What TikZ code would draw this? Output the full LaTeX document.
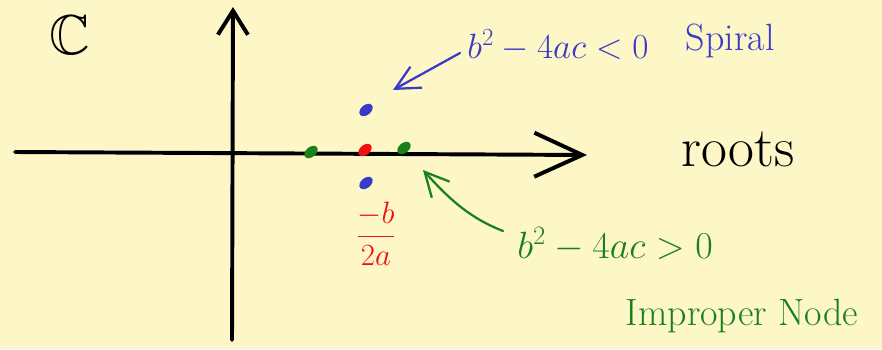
\RequirePackage{fix-cm}
\documentclass[tikz,border=0pt]{standalone}
\usepackage{amsmath}
\usepackage{amssymb}
\usepackage{fontspec}
\usetikzlibrary{arrows.meta,shapes.geometric}
\definecolor{paper}{HTML}{FDF7C8}
\definecolor{inkblue}{HTML}{3A3AC8}
\definecolor{inkgreen}{HTML}{1A801A}
\definecolor{inkred}{HTML}{F01010}

\begin{document}
\begin{tikzpicture}[x=0.025cm, y=-0.025cm, line cap=round, line join=round,
 axis/.style={line width=2.8pt, black},
 pointer/.style={line width=1.6pt, -{Straight Barb[length=0.6cm, width=0.6cm]}},
 root/.style={ellipse, fill, inner sep=0pt, minimum width=0.38cm, minimum height=0.25cm, rotate=40},
 big/.style={font=\fontsize{40}{44}\selectfont},
 mid/.style={font=\fontsize{27}{31}\selectfont},
 sml/.style={font=\fontsize{25}{28}\selectfont}]
\useasboundingbox (0,0) rectangle (882,349);
\fill[paper] (0,0) rectangle (882,349);
\coordinate (xl) at (15,152);
\coordinate (xr) at (587,155);
\coordinate (yb) at (232,340);
\coordinate (yt) at (233,7);
\draw[axis, -{Straight Barb[length=1.2cm, width=1.1cm]}] (xl) -- (xr);
\draw[axis, -{Straight Barb[length=0.6cm, width=0.75cm]}] (yb) -- (yt);
\node[big] (cc) at (70,35) {$\mathbb{C}$};
\foreach \n/\x/\y/\c in {sa/366/110/inkblue, sb/366/183/inkblue, ga/311/152/inkgreen, gb/404/148/inkgreen, rr/365/150/inkred}
  \node[root, \c] (\n) at (\x,\y) {};
\node[font=\fontsize{22}{26}\selectfont, inkred] (fr) at (376,234) {$\dfrac{-b}{2a}$};
\node[sml, inkblue, anchor=base] (lt) at (558,58) {$b^2-4ac<0$};
\node[mid, inkblue, anchor=base west] (sl) at (681,50) {Spiral};
\node[big, anchor=base] (rt) at (738,166) {roots};
\node[mid, inkgreen, anchor=base] (gt) at (615,258) {$b^2-4ac>0$};
\node[mid, inkgreen, anchor=base] (imp) at (742,325) {Improper Node};
\coordinate (bt) at (460,53);
\coordinate (bh) at (393,90);
\coordinate (gl) at (503,231);
\coordinate (gh) at (423,170);
\draw[pointer, inkblue] (bt) -- (bh);
\draw[pointer, inkgreen] (gl) .. controls (470,218) and (450,200) .. (gh);
\end{tikzpicture}
\end{document}
